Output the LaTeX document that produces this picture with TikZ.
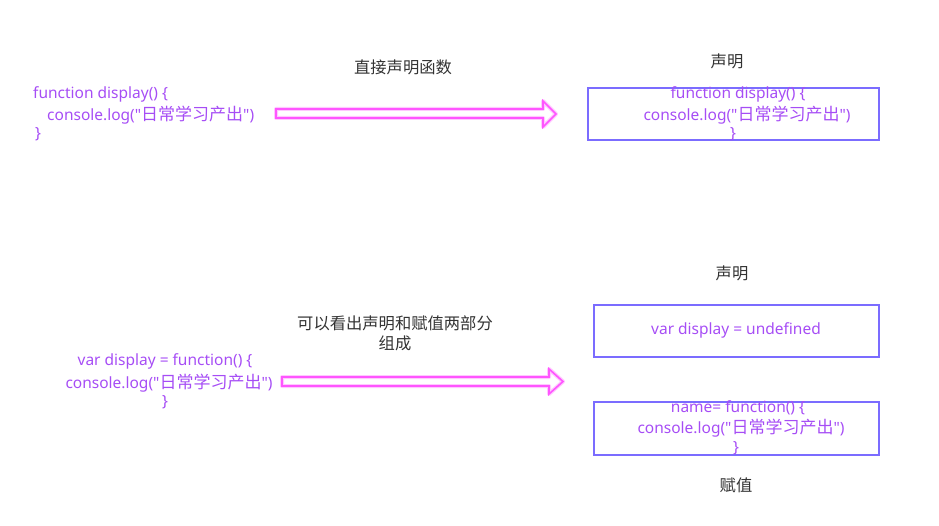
\documentclass[tikz,border=0pt]{standalone}
\usepackage{fontspec}
\setmainfont{Noto Sans}[Ligatures=TeXOff]
\newfontfamily\cjk{Noto Sans CJK SC}[Ligatures=TeXOff]
\definecolor{codec}{HTML}{A64DF5}
\definecolor{boxc}{HTML}{7B6CFF}
\definecolor{arrc}{HTML}{FF55FF}
\definecolor{glowc}{HTML}{FFC8FF}
\definecolor{labc}{HTML}{333333}
\newcommand{\zh}[1]{{\cjk\fontsize{17}{20}\selectfont #1}}
\newcommand{\logline}{console.log("\zh{日常学习产出}")}
\begin{document}
\begin{tikzpicture}[x=1pt,y=-1pt,
  code/.style={text=codec,font=\fontsize{15.5}{20}\selectfont,inner sep=0pt},
  lab/.style={text=labc,font=\cjk\fontsize{16.3}{20}\selectfont,inner sep=0pt,align=center},
  cbox/.style={draw=boxc,line width=1.2pt},
  glow/.style={draw=glowc,line width=4pt,line join=round},
  arr/.style={draw=arrc,line width=1.6pt,line join=miter}]
\useasboundingbox (0,0) rectangle (939,526);
% top-left code
\node[code,anchor=west] (c1a) at (33,94) {function display() \{};
\node[code,anchor=west] (c1b) at (47,115) {\logline};
\node[code,anchor=west] (c1c) at (35,134) {\}};
% arrow 1
\foreach \s in {glow,arr}{
\draw[\s] (276,109) -- (543,109) -- (543,101) -- (556,114) -- (543,127) -- (543,118) -- (276,118) -- cycle;}
\node[lab] (l1) at (403,67) {直接声明函数};
\node[lab] (l2) at (727,61) {声明};
\draw[cbox] (588,88) rectangle (879,140);
\node[code] (b1a) at (738,94) {function display() \{};
\node[code] (b1b) at (747,115) {\logline};
\node[code] (b1c) at (733,134) {\}};
% bottom-left code
\node[code] (c2a) at (165,361) {var display = function() \{};
\node[code] (c2b) at (169,383) {\logline};
\node[code] (c2c) at (165,402) {\}};
\foreach \s in {glow,arr}{
\draw[\s] (282,377) -- (549,377) -- (549,369) -- (563,381.5) -- (549,394) -- (549,386) -- (282,386) -- cycle;}
\node[lab] (l3) at (395,333) {可以看出声明和赋值两部分\\组成};
\node[lab] (l4) at (732,273) {声明};
\draw[cbox] (594,305) rectangle (879,357);
\node[code] (b2) at (736,330) {var display = undefined};
\draw[cbox] (594,402) rectangle (879,455);
\node[code] (b3a) at (738,408) {name= function() \{};
\node[code] (b3b) at (741,428) {\logline};
\node[code] (b3c) at (736,448) {\}};
\node[lab] (l5) at (736,485) {赋值};
\end{tikzpicture}
\end{document}
